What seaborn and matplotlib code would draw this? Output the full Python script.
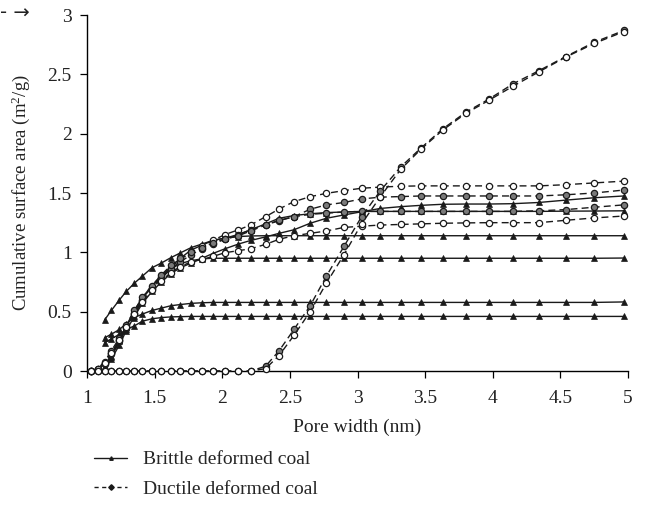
import matplotlib
matplotlib.use("Agg")
import matplotlib.pyplot as plt
from matplotlib.lines import Line2D
import seaborn as sns
import numpy as np

# ---------------- data ----------------
pore_width = [1.03, 1.08, 1.13, 1.18, 1.24, 1.29, 1.35, 1.41, 1.48, 1.55, 1.62, 1.69,
              1.77, 1.85, 1.93, 2.02, 2.12, 2.21, 2.32, 2.42, 2.53, 2.65, 2.77, 2.90,
              3.03, 3.17, 3.32, 3.47, 3.63, 3.80, 3.97, 4.15, 4.34, 4.54, 4.75, 4.97]

# Brittle deformed coal (start at 1.13 nm)
brittle_x = pore_width[2:]
brittle_1 = [0.02, 0.10, 0.22, 0.34, 0.46, 0.57, 0.67, 0.75, 0.82, 0.87, 0.91, 0.95,
             0.99, 1.03, 1.07, 1.10, 1.13, 1.16, 1.19, 1.245, 1.287, 1.315, 1.342, 1.37,
             1.385, 1.396, 1.405, 1.407, 1.407, 1.41, 1.42, 1.44, 1.46, 1.475]
brittle_2 = [0.03, 0.12, 0.25, 0.37, 0.50, 0.61, 0.71, 0.80, 0.88, 0.95, 1.02, 1.06,
             1.10, 1.12, 1.15, 1.19, 1.24, 1.287, 1.31, 1.325, 1.335, 1.34, 1.345, 1.345,
             1.345, 1.345, 1.345, 1.345, 1.345, 1.345, 1.345, 1.347, 1.348, 1.35]
brittle_3 = [0.43, 0.51, 0.60, 0.67, 0.74, 0.80, 0.87, 0.91, 0.955, 0.995, 1.04, 1.07,
             1.10, 1.12, 1.133, 1.138, 1.14, 1.14, 1.14, 1.14, 1.14, 1.14, 1.14, 1.14,
             1.14, 1.14, 1.14, 1.14, 1.14, 1.14, 1.14, 1.14, 1.14, 1.14]
brittle_4 = [0.04, 0.13, 0.26, 0.38, 0.51, 0.62, 0.72, 0.80, 0.86, 0.905, 0.93, 0.945,
             0.95, 0.95, 0.95, 0.95, 0.95, 0.95, 0.95, 0.95, 0.95, 0.95, 0.95, 0.95,
             0.95, 0.95, 0.95, 0.95, 0.95, 0.95, 0.95, 0.95, 0.95, 0.952]
brittle_5 = [0.28, 0.31, 0.35, 0.40, 0.45, 0.48, 0.51, 0.53, 0.55, 0.56, 0.57, 0.575,
             0.578, 0.578, 0.578, 0.578, 0.578, 0.578, 0.578, 0.578, 0.578, 0.578, 0.578, 0.578,
             0.578, 0.578, 0.578, 0.578, 0.578, 0.578, 0.578, 0.578, 0.578, 0.582]
brittle_6 = [0.24, 0.27, 0.31, 0.35, 0.38, 0.42, 0.44, 0.45, 0.456, 0.458, 0.46, 0.46,
             0.46, 0.46, 0.46, 0.46, 0.46, 0.46, 0.46, 0.46, 0.46, 0.46, 0.46, 0.46,
             0.46, 0.46, 0.46, 0.46, 0.46, 0.46, 0.46, 0.46, 0.46, 0.46]

# Ductile deformed coal (start at 1.03 nm)
ductile_x = pore_width
ductile_1 = [0.00, 0.02, 0.07, 0.15, 0.26, 0.37, 0.49, 0.60, 0.70, 0.79, 0.87, 0.94,
             1.00, 1.05, 1.10, 1.15, 1.19, 1.23, 1.30, 1.365, 1.427, 1.469, 1.497, 1.52,
             1.54, 1.55, 1.557, 1.56, 1.56, 1.56, 1.56, 1.56, 1.56, 1.57, 1.585, 1.60]
ductile_2 = [0.00, 0.01, 0.06, 0.14, 0.25, 0.36, 0.48, 0.59, 0.69, 0.78, 0.86, 0.92,
             0.98, 1.03, 1.07, 1.11, 1.15, 1.19, 1.23, 1.267, 1.30, 1.363, 1.40, 1.42,
             1.45, 1.465, 1.47, 1.475, 1.475, 1.475, 1.475, 1.475, 1.475, 1.485, 1.50, 1.525]
ductile_3 = [0.00, 0.02, 0.08, 0.17, 0.28, 0.39, 0.51, 0.62, 0.72, 0.81, 0.89, 0.95,
             1.00, 1.04, 1.08, 1.11, 1.14, 1.18, 1.23, 1.27, 1.30, 1.32, 1.33, 1.34,
             1.345, 1.345, 1.345, 1.345, 1.345, 1.345, 1.345, 1.345, 1.35, 1.36, 1.38, 1.40]
ductile_4 = [0.00, 0.02, 0.07, 0.15, 0.26, 0.37, 0.48, 0.58, 0.68, 0.76, 0.83, 0.88,
             0.92, 0.94, 0.965, 0.997, 1.014, 1.03, 1.067, 1.11, 1.14, 1.16, 1.18, 1.21,
             1.22, 1.23, 1.235, 1.24, 1.245, 1.248, 1.25, 1.25, 1.25, 1.27, 1.29, 1.306]
ductile_5 = [0.0, 0.0, 0.0, 0.0, 0.0, 0.0, 0.0, 0.0, 0.0, 0.0, 0.0, 0.0,
             0.0, 0.0, 0.0, 0.0, 0.0, 0.0, 0.04, 0.17, 0.35, 0.55, 0.80, 1.05,
             1.30, 1.52, 1.72, 1.88, 2.04, 2.18, 2.29, 2.42, 2.53, 2.65, 2.77, 2.87]
ductile_6 = [0.0, 0.0, 0.0, 0.0, 0.0, 0.0, 0.0, 0.0, 0.0, 0.0, 0.0, 0.0,
             0.0, 0.0, 0.0, 0.0, 0.0, 0.0, 0.02, 0.13, 0.30, 0.50, 0.74, 0.98,
             1.24, 1.47, 1.70, 1.87, 2.03, 2.17, 2.28, 2.40, 2.52, 2.645, 2.76, 2.86]

brittle_series = [brittle_1, brittle_2, brittle_3, brittle_4, brittle_5, brittle_6]
ductile_series = [ductile_1, ductile_2, ductile_3, ductile_4, ductile_5, ductile_6]
ductile_faces = ["white", "#7a7a7a", "#7a7a7a", "white", "#7a7a7a", "white"]

x_ticks = [1, 1.5, 2, 2.5, 3, 3.5, 4, 4.5, 5]
x_tick_labels = ["1", "1.5", "2", "2.5", "3", "3.5", "4", "4.5", "5"]
y_ticks = [0, 0.5, 1, 1.5, 2, 2.5, 3]
y_tick_labels = ["0", "0.5", "1", "1.5", "2", "2.5", "3"]

# ---------------- style ----------------
sns.set_theme(style="white")
plt.rcParams["font.family"] = ["Liberation Serif", "DejaVu Serif"]
plt.rcParams["mathtext.default"] = "regular"

FS = 14
fig = plt.figure(figsize=(6.45, 5.11), dpi=100)
ax = fig.add_axes([87/645, 1 - 371/511, 541/645, 356/511])

line_col = "#1a1a1a"
for ys in brittle_series:
    sns.lineplot(x=brittle_x, y=ys, ax=ax, color=line_col, linewidth=1.0,
                 marker="^", markersize=4.3, markerfacecolor=line_col,
                 markeredgecolor=line_col, markeredgewidth=0.5, sort=False,
                 clip_on=False, zorder=3)
for ys, fc in zip(ductile_series, ductile_faces):
    sns.lineplot(x=ductile_x, y=ys, ax=ax, color=line_col, linewidth=1.0,
                 dashes=False, linestyle=(0, (5, 3)),
                 marker="o", markersize=4.5, markerfacecolor=fc,
                 markeredgecolor=line_col, markeredgewidth=0.9, sort=False,
                 clip_on=False, zorder=4)

ax.set_xlim(1, 5)
ax.set_ylim(0, 3)
ax.set_xticks(x_ticks)
ax.set_xticklabels(x_tick_labels)
ax.set_yticks(y_ticks)
ax.set_yticklabels(y_tick_labels)
ax.tick_params(axis="both", direction="out", length=5, width=0.9, colors="black",
               labelsize=FS, bottom=True, left=True)
ax.tick_params(axis="x", pad=9)
ax.tick_params(axis="y", pad=6)
for lab in ax.get_xticklabels() + ax.get_yticklabels():
    lab.set_color("#222222")
for side in ["top", "right"]:
    ax.spines[side].set_visible(False)
for side in ["left", "bottom"]:
    ax.spines[side].set_color("black")
    ax.spines[side].set_linewidth(1.0)
ax.grid(False)

ax.set_xlabel("Pore width (nm)", fontsize=FS, color="#222222", labelpad=8)
ax.set_ylabel("Cumulative surface area (m$^2$/g)", fontsize=13.5, color="#222222", labelpad=11)

handles = [
    Line2D([0], [0], color=line_col, linewidth=1.0, marker="^", markersize=2.5,
           markerfacecolor=line_col, markeredgecolor=line_col),
    Line2D([0], [0], color=line_col, linewidth=1.0, linestyle=(0, (3, 2.5)), marker="D",
           markersize=2.8, markerfacecolor=line_col, markeredgecolor=line_col),
]
fig.legend(handles, ["Brittle deformed coal", "Ductile deformed coal"],
           loc="upper left", bbox_to_anchor=(0.146, 0.118), frameon=False,
           fontsize=FS, handlelength=1.7, handletextpad=0.8, labelspacing=0.62,
           numpoints=1, borderaxespad=0, borderpad=0)

fig.text(0.0, 1 - 13/511, "- \u2192", fontsize=14, va="center", ha="left",
         color="#222222", family=["DejaVu Sans"])

fig.savefig("out.png", dpi=100)
